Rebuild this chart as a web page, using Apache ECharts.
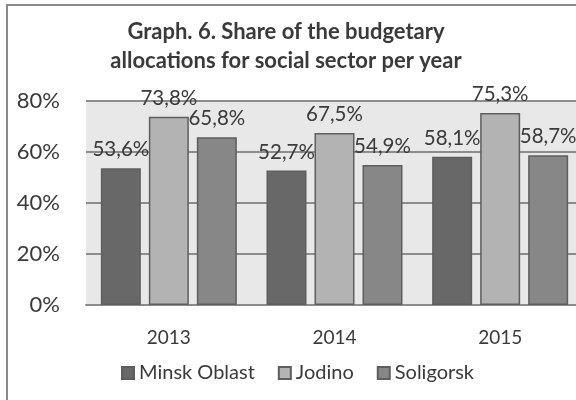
<!DOCTYPE html>
<html>
<head>
<meta charset="utf-8">
<script src="https://cdn.jsdelivr.net/npm/echarts@6/dist/echarts.min.js"></script>
<style>
  html, body { margin: 0; padding: 0; background: #fff; overflow: hidden; }
  #chart { width: 600px; height: 400px; }
</style>
</head>
<body>
<div id="chart"></div>
<script>
// Years on the category axis
const years = ['2013', '2014', '2015'];
// Share of budget allocated to the social sector, %
const minskOblast = [53.6, 52.7, 58.1];
const jodino = [73.8, 67.5, 75.3];
const soligorsk = [65.8, 54.9, 58.7];
// Value axis ticks
const yMin = 0, yMax = 80, yStep = 20;

const FONT = 'Lato, "Open Sans", sans-serif';
const fmt = v => v.toFixed(1).replace('.', ',') + '%';

function barSeries(name, data, color) {
  return {
    name: name,
    type: 'bar',
    data: data,
    barWidth: 40,
    barGap: '20%',
    itemStyle: { color: color, borderColor: '#5e5e5e', borderWidth: 1.5 },
    label: {
      show: true,
      position: 'top',
      distance: 8,
      formatter: p => fmt(p.value),
      color: '#3a3a3a',
      fontFamily: FONT,
      fontSize: 20.5
    }
  };
}

const chart = echarts.init(document.getElementById('chart'));
chart.setOption({
  animation: false,
  backgroundColor: '#fff',
  graphic: [{
    type: 'rect',
    shape: { x: 7, y: 5, width: 620, height: 430 },
    style: { fill: 'none', stroke: '#8a8a8a', lineWidth: 2 },
    z: -1
  }],
  title: {
    text: 'Graph. 6. Share of the budgetary\nallocations for social sector per year',
    left: 281,
    top: 12,
    textAlign: 'center',
    textStyle: {
      fontFamily: FONT,
      fontWeight: 'bold',
      fontSize: 22,
      lineHeight: 29,
      color: '#3a3a3a'
    }
  },
  legend: {
    left: 116,
    top: 358,
    itemWidth: 12,
    itemHeight: 12,
    itemGap: 23,
    icon: 'rect',
    textStyle: { fontFamily: FONT, fontSize: 20, color: '#3a3a3a' }
  },
  grid: {
    left: 86,
    top: 101,
    width: 497,
    height: 204,
    show: true,
    backgroundColor: '#e8e8e8',
    borderWidth: 0
  },
  xAxis: {
    type: 'category',
    data: years,
    axisLine: { show: true, lineStyle: { color: '#8c8c8c', width: 2 } },
    axisTick: { show: false },
    axisLabel: { margin: 23, fontFamily: FONT, fontSize: 19, color: '#3a3a3a' }
  },
  yAxis: {
    type: 'value',
    min: yMin,
    max: yMax,
    interval: yStep,
    axisLine: { show: false },
    axisTick: { show: false },
    splitLine: { lineStyle: { color: '#8c8c8c', width: 2 } },
    axisLabel: {
      margin: 26,
      formatter: '{value}%',
      fontFamily: FONT,
      fontSize: 22,
      color: '#3a3a3a'
    }
  },
  series: [
    barSeries('Minsk Oblast', minskOblast, '#686868'),
    barSeries('Jodino', jodino, '#b3b3b3'),
    barSeries('Soligorsk', soligorsk, '#878787')
  ]
});
</script>
</body>
</html>
